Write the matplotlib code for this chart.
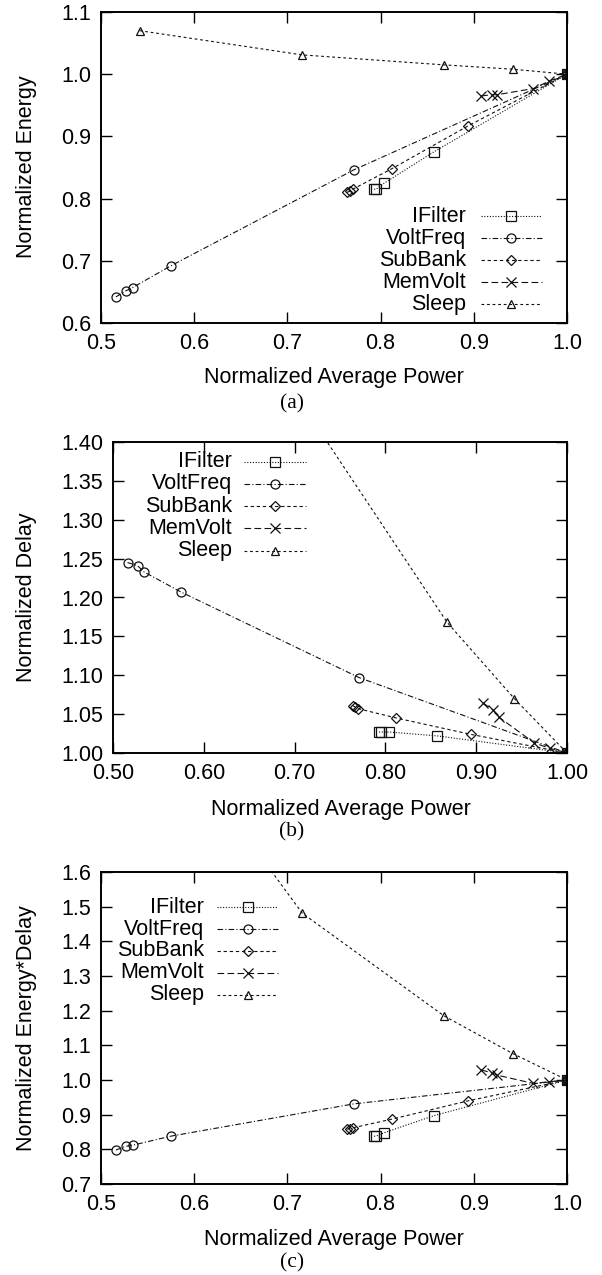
import matplotlib
matplotlib.use("Agg")
import matplotlib.pyplot as plt
from matplotlib.ticker import FormatStrFormatter, MultipleLocator

# --- data ---
methods = ['IFilter', 'VoltFreq', 'SubBank', 'MemVolt', 'Sleep']

power_ifilter = [0.793, 0.795, 0.804, 0.857, 1.0]
energy_ifilter = [0.815, 0.815, 0.825, 0.875, 1.0]
delay_ifilter = [1.027, 1.027, 1.027, 1.022, 1.0]
edp_ifilter = [0.838, 0.838, 0.848, 0.897, 1.0]

power_voltfreq = [0.516, 0.527, 0.534, 0.575, 0.771, 1.0]
energy_voltfreq = [0.642, 0.652, 0.657, 0.692, 0.846, 1.0]
delay_voltfreq = [1.245, 1.241, 1.233, 1.207, 1.097, 1.0]
edp_voltfreq = [0.798, 0.809, 0.812, 0.838, 0.931, 1.0]

power_subbank = [0.764, 0.767, 0.770, 0.812, 0.894, 1.0]
energy_subbank = [0.810, 0.812, 0.815, 0.848, 0.917, 1.0]
delay_subbank = [1.061, 1.059, 1.057, 1.045, 1.024, 1.0]
edp_subbank = [0.858, 0.860, 0.862, 0.887, 0.940, 1.0]

power_memvolt = [0.908, 0.919, 0.925, 0.964, 0.981, 1.0]
energy_memvolt = [0.965, 0.967, 0.967, 0.977, 0.989, 1.0]
delay_memvolt = [1.064, 1.055, 1.046, 1.013, 1.006, 1.0]
edp_memvolt = [1.029, 1.021, 1.014, 0.990, 0.995, 1.0]

power_sleep = [0.5415, 0.716, 0.868, 0.942, 1.0]
energy_sleep = [1.070, 1.031, 1.015, 1.008, 1.0]
delay_sleep = [1.98, 1.435, 1.168, 1.070, 1.0]
edp_sleep = [2.12, 1.481, 1.185, 1.076, 1.0]

powers = [power_ifilter, power_voltfreq, power_subbank, power_memvolt, power_sleep]
energies = [energy_ifilter, energy_voltfreq, energy_subbank, energy_memvolt, energy_sleep]
delays = [delay_ifilter, delay_voltfreq, delay_subbank, delay_memvolt, delay_sleep]
edps = [edp_ifilter, edp_voltfreq, edp_subbank, edp_memvolt, edp_sleep]

# gnuplot-ish styles
styles = {
    'IFilter':  dict(ls=(0, (1, 1.5)), marker='s', ms=6.5),
    'VoltFreq': dict(ls=(0, (5, 2, 1, 2)), marker='o', ms=6.5),
    'SubBank':  dict(ls=(0, (3, 2.5)), marker='D', ms=4.8),
    'MemVolt':  dict(ls=(0, (6, 3)), marker='x', ms=7.5),
    'Sleep':    dict(ls=(0, (2.5, 2.5)), marker='^', ms=6),
}

W, H = 602, 1275
FS = 15.5
plt.rcParams['font.family'] = ['Liberation Sans', 'DejaVu Sans']
plt.rcParams['font.size'] = FS


def add_axes(fig, left, right, top, bottom):
    return fig.add_axes([left / W, 1 - bottom / H, (right - left) / W, (bottom - top) / H])


def plot_series(ax, ys):
    for name, xs, yv in zip(methods, powers, ys):
        st = styles[name]
        ax.plot(xs, yv, color='#111111', lw=0.8, ls=st['ls'], marker=st['marker'],
                ms=st['ms'], mfc='none', mec='#111111', mew=0.9)


def draw_key(ax, x_text, x0, x1, y_top, dy):
    for i, name in enumerate(methods):
        st = styles[name]
        y = y_top - i * dy
        ax.text(x_text, y, name, transform=ax.transAxes, ha='right', va='center', fontsize=FS)
        ax.plot([x0, x1], [y, y], transform=ax.transAxes, color='#111111', lw=0.8,
                ls=st['ls'], clip_on=False)
        ax.plot([(x0 + x1) / 2], [y], transform=ax.transAxes, marker=st['marker'],
                ms=st['ms'], mfc='none', mec='#111111', mew=0.9, clip_on=False)


def style_axes(ax, xlim, ylim, ystep, fmt_x, fmt_y):
    ax.set_xlim(*xlim)
    ax.set_ylim(*ylim)
    ax.xaxis.set_major_locator(MultipleLocator(0.1))
    ax.yaxis.set_major_locator(MultipleLocator(ystep))
    ax.xaxis.set_major_formatter(FormatStrFormatter(fmt_x))
    ax.yaxis.set_major_formatter(FormatStrFormatter(fmt_y))
    ax.tick_params(direction='in', length=8, width=1, top=True, right=True,
                   labelsize=FS, pad=7)
    for sp in ax.spines.values():
        sp.set_linewidth(1.4)


def caption(fig, x, y, s, serif=False):
    fig.text(x / W, 1 - y / H, s, ha='center', va='center', fontsize=FS,
             family=['Liberation Serif'] if serif else None)


def ylab(fig, x, y, s):
    fig.text(x / W, 1 - y / H, s, ha='center', va='center', rotation=90, fontsize=FS)


fig = plt.figure(figsize=(W / 100, H / 100), dpi=100)

# (a) energy
ax1 = add_axes(fig, 101, 567, 12, 323)
plot_series(ax1, energies)
style_axes(ax1, (0.5, 1.0), (0.6, 1.1), 0.1, '%.1f', '%.1f')
draw_key(ax1, 0.783, 0.815, 0.946, 0.344, 0.0708)
ylab(fig, 27, 167, 'Normalized Energy')
caption(fig, 334, 378, 'Normalized Average Power')
caption(fig, 292, 404, '(a)', serif=True)

# (b) delay
ax2 = add_axes(fig, 113, 567, 442, 753)
plot_series(ax2, delays)
style_axes(ax2, (0.5, 1.0), (1.0, 1.4), 0.05, '%.2f', '%.2f')
draw_key(ax2, 0.262, 0.289, 0.425, 0.937, 0.0715)
ylab(fig, 27, 597, 'Normalized Delay')
caption(fig, 341, 810, 'Normalized Average Power')
caption(fig, 292, 832, '(b)', serif=True)

# (c) energy*delay
ax3 = add_axes(fig, 101, 567, 872, 1184)
plot_series(ax3, edps)
style_axes(ax3, (0.5, 1.0), (0.7, 1.6), 0.1, '%.1f', '%.1f')
draw_key(ax3, 0.221, 0.249, 0.380, 0.887, 0.070)
ylab(fig, 27, 1028, 'Normalized Energy*Delay')
caption(fig, 334, 1240, 'Normalized Average Power')
caption(fig, 292, 1263, '(c)', serif=True)

fig.savefig('out.png', dpi=100)
